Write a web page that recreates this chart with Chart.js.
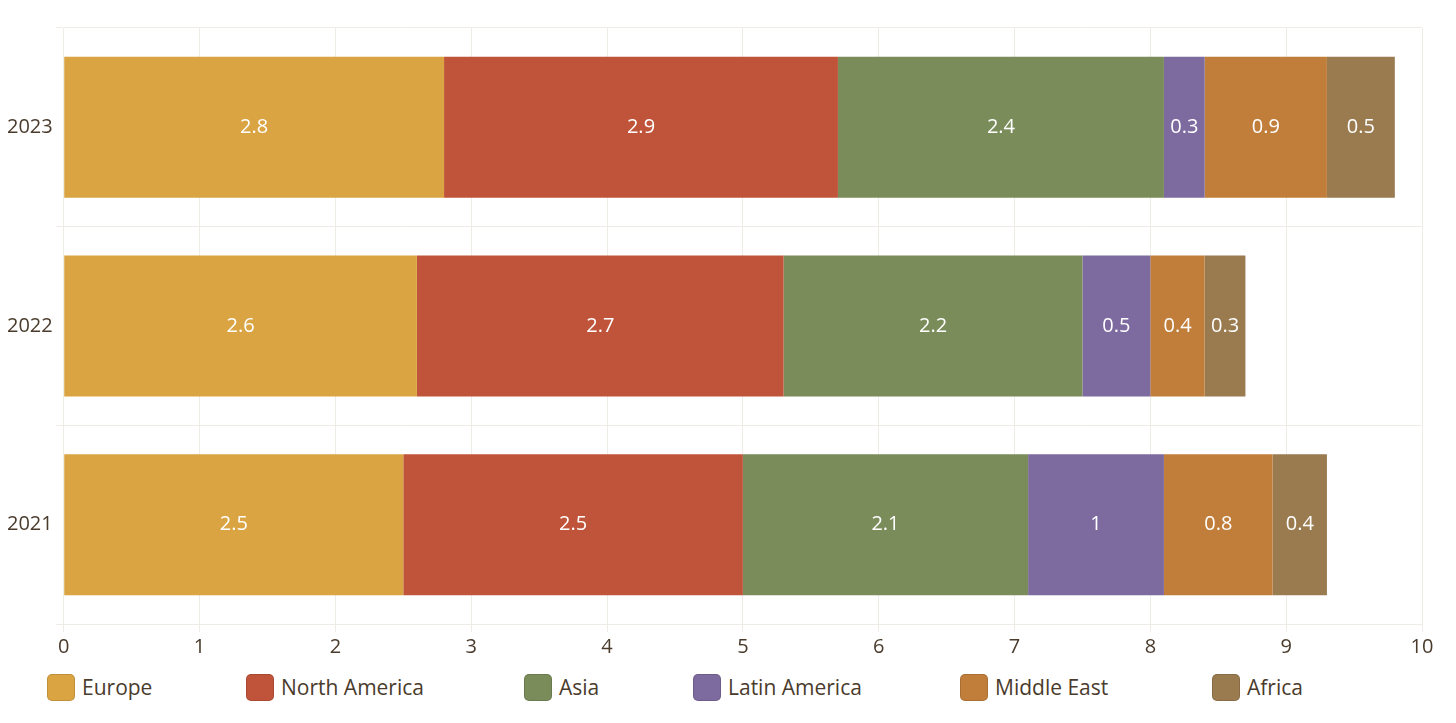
<!DOCTYPE html>
<html>
<head>
<meta charset="utf-8">
<script src="https://cdn.jsdelivr.net/npm/chart.js@4"></script>
<style>
  html, body { margin: 0; padding: 0; background: #fff; }
  #wrap { width: 1456px; height: 662px; }
  #legend { position: relative; width: 1456px; height: 61px; font-family: 'Open Sans', 'Noto Sans', sans-serif; font-size: 21px; color: #4a3b2c; }
  .item { position: absolute; top: 11px; display: flex; align-items: center; }
  .box { width: 28px; height: 27px; border-radius: 5px; margin-right: 7px; box-sizing: border-box; border: 1px solid rgba(0,0,0,0.12); }
</style>
</head>
<body>
<div id="wrap"><canvas id="myChart"></canvas></div>
<div id="legend"></div>
<script>
const years = ["2023", "2022", "2021"];
const regions = ["Europe", "North America", "Asia", "Latin America", "Middle East", "Africa"];
const europe = [2.8, 2.6, 2.5];
const northAmerica = [2.9, 2.7, 2.5];
const asia = [2.4, 2.2, 2.1];
const latinAmerica = [0.3, 0.5, 1];
const middleEast = [0.9, 0.4, 0.8];
const africa = [0.5, 0.3, 0.4];

const colors = ["#D9A441", "#C0543A", "#7A8C5A", "#7D6A9E", "#C17E3A", "#9A7B50"];
const legendX = [47, 246, 524, 693, 960, 1212];
const series = [europe, northAmerica, asia, latinAmerica, middleEast, africa];

const textColor = "#4a3b2c";
const font = "'Open Sans', 'Noto Sans', sans-serif";

// value labels in the middle of each segment
const valueLabels = {
    id: "valueLabels",
    afterDatasetsDraw(chart) {
        const ctx = chart.ctx;
        ctx.save();
        ctx.fillStyle = "#ffffff";
        ctx.font = "20px " + font;
        ctx.textAlign = "center";
        ctx.textBaseline = "middle";
        chart.data.datasets.forEach((d, i) => {
            chart.getDatasetMeta(i).data.forEach((bar, j) => {
                const p = bar.getProps(["x", "y", "base"], true);
                ctx.fillText(String(d.data[j]), (p.x + p.base) / 2, p.y);
            });
        });
        ctx.restore();
    }
};

new Chart("myChart", {
    type: "bar",
    data: {
        labels: years,
        datasets: regions.map((r, i) => ({ label: r, data: series[i], backgroundColor: colors[i] }))
    },
    options: {
        indexAxis: "y",
        responsive: true,
        maintainAspectRatio: false,
        animation: false,
        categoryPercentage: 0.71,
        barPercentage: 1,
        layout: { padding: { top: 28, right: 34, left: 4, bottom: 0 } },
        scales: {
            x: {
                stacked: true,
                min: 0,
                max: 10,
                ticks: { stepSize: 1, color: textColor, font: { size: 20, family: font } },
                grid: { color: "#efebe6" },
                border: { color: "#efebe6" }
            },
            y: {
                stacked: true,
                ticks: { color: textColor, font: { size: 20, family: font } },
                grid: { color: "#efebe6" },
                border: { color: "#efebe6" }
            }
        },
        plugins: {
            legend: { display: false },
            tooltip: { enabled: false }
        }
    },
    plugins: [valueLabels]
});

const legend = document.getElementById("legend");
regions.forEach((r, i) => {
    const item = document.createElement("div");
    item.className = "item";
    item.style.left = legendX[i] + "px";
    const box = document.createElement("span");
    box.className = "box";
    box.style.background = colors[i];
    const label = document.createElement("span");
    label.textContent = r;
    item.appendChild(box);
    item.appendChild(label);
    legend.appendChild(item);
});
</script>
</body>
</html>
